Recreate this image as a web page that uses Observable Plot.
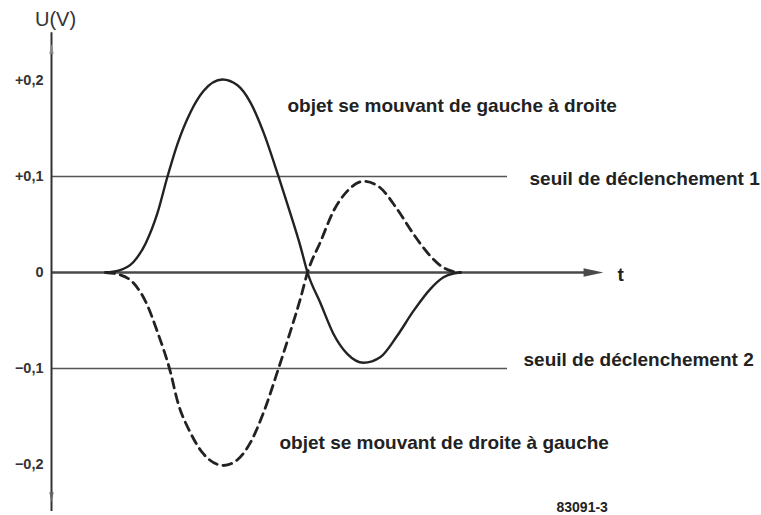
<!DOCTYPE html>
<html>
<head>
<meta charset="utf-8">
<script src="https://cdn.jsdelivr.net/npm/d3@7"></script>
<script src="https://cdn.jsdelivr.net/npm/@observablehq/plot@0.6"></script>
<style>
  html, body { margin: 0; padding: 0; background: #fff; }
  #chart svg { display: block; }
</style>
</head>
<body>
<div id="chart"></div>
<script>
// time (arbitrary units) and voltage (V)
const tSolid = [54, 67, 82, 94, 106, 116, 126, 139, 152, 171, 186, 199, 212, 227, 239, 249, 256, 269, 282, 296, 312, 329, 345, 362, 379, 392, 402, 409];
const uSolid = [0, 0.002, 0.011, 0.030, 0.062, 0.100, 0.134, 0.167, 0.189, 0.201, 0.195, 0.177, 0.146, 0.100, 0.061, 0.027, 0, -0.032, -0.064, -0.085, -0.094, -0.088, -0.067, -0.040, -0.017, -0.005, -0.001, 0];
const tDashed = [54, 67, 82, 94, 106, 119, 126, 139, 152, 172, 186, 199, 212, 227, 239, 249, 256, 269, 282, 296, 312, 329, 345, 362, 379, 392, 402, 409];
const uDashed = [0, -0.002, -0.011, -0.030, -0.062, -0.104, -0.134, -0.167, -0.189, -0.201, -0.195, -0.177, -0.146, -0.100, -0.061, -0.027, 0, 0.032, 0.064, 0.085, 0.095, 0.088, 0.067, 0.040, 0.017, 0.005, 0.001, 0];

const tickValues = [0.2, 0.1, 0, -0.1, -0.2];
const tickLabels = ["+0,2", "+0,1", "0", "\u22120,1", "\u22120,2"];

const thresholds = [0.1, -0.1];
const thresholdLabels = ["seuil de déclenchement 1", "seuil de déclenchement 2"];
const curveLabels = ["objet se mouvant de gauche à droite", "objet se mouvant de droite à gauche"];
const axisLabelY = "U(V)";
const axisLabelX = "t";
const figureId = "83091-3";

const solid = tSolid.map((t, i) => ({t, u: uSolid[i]}));
const dashed = tDashed.map((t, i) => ({t, u: uDashed[i]}));

// thin wedge arrowhead symbol (points up)
const wedge = {
  draw(ctx, size) {
    const l = Math.sqrt(size) * 1.6, w = l * 0.22;
    ctx.moveTo(0, -l / 2);
    ctx.lineTo(w, l / 2);
    ctx.lineTo(-w, l / 2);
    ctx.closePath();
  }
};

const ink = "#222";
const font = "'Liberation Sans', Arial, sans-serif";

const chart = Plot.plot({
  width: 761,
  height: 515,
  marginLeft: 51,
  marginRight: 0,
  marginTop: 0,
  marginBottom: 0,
  x: {domain: [0, 710], axis: null},
  y: {domain: [-0.2531, 0.2833]},
  style: {fontFamily: font, background: "#fff", color: ink, overflow: "visible"},
  marks: [
    // threshold lines
    Plot.ruleY(thresholds, {x1: 0, x2: 456, stroke: "#555", strokeWidth: 1.3}),
    // zero (time) axis
    Plot.ruleY([0], {x1: 0, x2: 534, stroke: "#4a4a4a", strokeWidth: 2.4}),
    Plot.dot([0], {x: 542, y: 0, symbol: wedge, r: 7, rotate: 90, fill: "#4a4a4a", stroke: "none"}),
    // vertical axis
    Plot.ruleX([0], {y1: -0.249, y2: 0.2496, stroke: "#333", strokeWidth: 2}),
    Plot.dot([0], {x: 0, y: 0.233, symbol: wedge, r: 3.5, rotate: 0, fill: "#888", stroke: "none"}),
    Plot.dot([0], {x: 0, y: -0.234, symbol: wedge, r: 3.5, rotate: 180, fill: "#666", stroke: "none"}),
    Plot.axisY({
      ticks: tickValues,
      tickFormat: d => tickLabels[tickValues.indexOf(d)],
      tickSize: 0,
      tickPadding: 8,
      fontSize: 14.5,
      fontWeight: "bold",
      fill: "#333",
      label: null
    }),
    // curves
    Plot.line(dashed, {x: "t", y: "u", curve: "monotone-x", stroke: ink, strokeWidth: 2.8, strokeDasharray: "9,6"}),
    Plot.line(solid, {x: "t", y: "u", curve: "monotone-x", stroke: ink, strokeWidth: 2.4}),
    // annotations
    Plot.text([axisLabelY], {x: 4, y: 0.263, text: d => d, textAnchor: "middle", fontSize: 20, fill: "#333"}),
    Plot.text([axisLabelX], {x: 566, y: -0.003, text: d => d, textAnchor: "start", fontSize: 19, fontWeight: "bold", fill: ink}),
    Plot.text([curveLabels[0]], {x: 236, y: 0.174, text: d => d, textAnchor: "start", fontSize: 19, fontWeight: "bold", fill: ink}),
    Plot.text([curveLabels[1]], {x: 228, y: -0.178, text: d => d, textAnchor: "start", fontSize: 19, fontWeight: "bold", fill: ink}),
    Plot.text([thresholdLabels[0]], {x: 478, y: 0.098, text: d => d, textAnchor: "start", fontSize: 19, fontWeight: "bold", fill: ink}),
    Plot.text([thresholdLabels[1]], {x: 472, y: -0.0906, text: d => d, textAnchor: "start", fontSize: 19, fontWeight: "bold", fill: ink}),
    Plot.text([figureId], {x: 505, y: -0.2453, text: d => d, textAnchor: "start", fontSize: 14, fontWeight: "bold", fill: ink})
  ]
});

document.getElementById("chart").appendChild(chart);
</script>
</body>
</html>
